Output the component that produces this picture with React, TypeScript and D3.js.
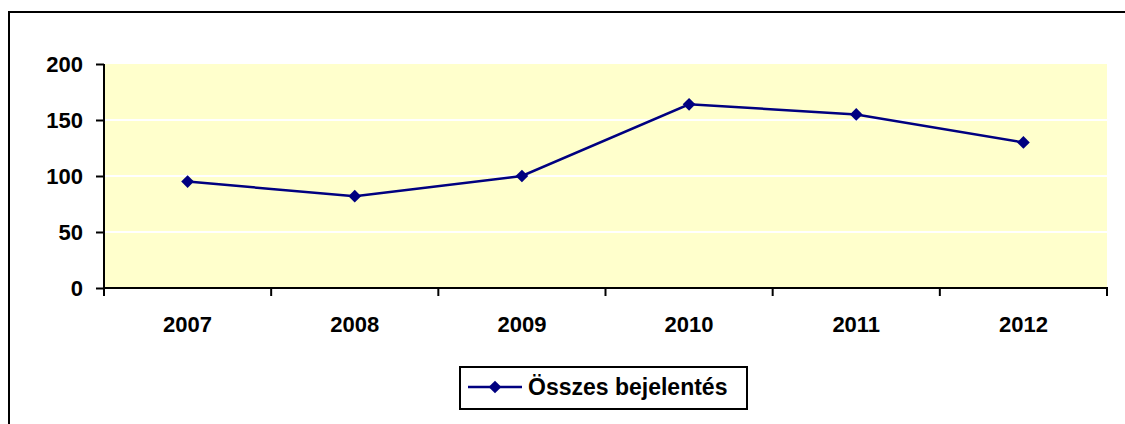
import { useEffect, useRef } from 'react'
import * as d3 from 'd3'

const years = ['2007', '2008', '2009', '2010', '2011', '2012']
const reports = [95, 82, 100, 164, 155, 130]
const yTicks = [0, 50, 100, 150, 200]
const seriesName = 'Összes bejelentés'

const W = 1125
const H = 424
const FONT = '"Liberation Sans", Arial, sans-serif'

export default function App() {
  const svgRef = useRef<SVGSVGElement>(null)

  useEffect(() => {
    if (!svgRef.current) return
    const svg = d3.select(svgRef.current)
    svg.selectAll('*').remove()

    // outer chart frame (runs off the right/bottom edge)
    svg.append('rect')
      .attr('x', 9).attr('y', 12).attr('width', W + 20).attr('height', H + 20)
      .attr('fill', '#fff').attr('stroke', '#000').attr('stroke-width', 2)

    const plot = { left: 104, top: 64, right: 1107, bottom: 288 }

    const x = d3.scaleBand().domain(years).range([plot.left, plot.right])
    const y = d3.scaleLinear().domain([0, 200]).range([plot.bottom, plot.top])

    // plot background
    svg.append('rect')
      .attr('x', plot.left).attr('y', plot.top)
      .attr('width', plot.right - plot.left).attr('height', plot.bottom - plot.top)
      .attr('fill', '#FFFFCC')

    // white gridlines
    svg.append('g').selectAll('line')
      .data(yTicks.filter(t => t > 0 && t < 200))
      .join('line')
      .attr('x1', plot.left).attr('x2', plot.right)
      .attr('y1', d => y(d)).attr('y2', d => y(d))
      .attr('stroke', '#fff').attr('stroke-width', 2)

    // y axis
    const yAxis = svg.append('g')
      .attr('transform', `translate(${plot.left},0)`)
      .call(d3.axisLeft(y).tickValues(yTicks).tickSize(8).tickPadding(13))
    yAxis.select('.domain').attr('stroke', '#000').attr('stroke-width', 2)
      .attr('d', `M0,${plot.top}V${plot.bottom}`)
    yAxis.selectAll('.tick line').attr('stroke', '#000').attr('stroke-width', 2)
    yAxis.selectAll('.tick text')
      .attr('font-family', FONT).attr('font-size', 22).attr('font-weight', 'bold')
      .attr('fill', '#000')

    // x axis: ticks at category boundaries
    const xAxis = svg.append('g')
    xAxis.append('line')
      .attr('x1', plot.left - 1).attr('x2', plot.right + 1)
      .attr('y1', plot.bottom).attr('y2', plot.bottom)
      .attr('stroke', '#000').attr('stroke-width', 2)
    const bounds = [...years.map(d => x(d)!), plot.right]
    xAxis.selectAll('line.tk')
      .data(bounds)
      .join('line')
      .attr('class', 'tk')
      .attr('x1', d => d).attr('x2', d => d)
      .attr('y1', plot.bottom).attr('y2', plot.bottom + 8)
      .attr('stroke', '#000').attr('stroke-width', 2)
    xAxis.selectAll('text')
      .data(years)
      .join('text')
      .attr('x', d => x(d)! + x.bandwidth() / 2)
      .attr('y', 332)
      .attr('text-anchor', 'middle')
      .attr('font-family', FONT).attr('font-size', 22).attr('font-weight', 'bold')
      .text(d => d)

    // series line
    const line = d3.line<number>()
      .x((_, i) => x(years[i])! + x.bandwidth() / 2)
      .y(d => y(d))
    svg.append('path')
      .datum(reports)
      .attr('fill', 'none')
      .attr('stroke', '#000080').attr('stroke-width', 2.5)
      .attr('d', line)

    const diamond = d3.symbol().type(d3.symbolSquare).size(81)
    svg.append('g').selectAll('path')
      .data(reports)
      .join('path')
      .attr('d', diamond)
      .attr('transform', (d, i) => `translate(${x(years[i])! + x.bandwidth() / 2},${y(d)}) rotate(45)`)
      .attr('fill', '#000080')

    // legend
    const lg = svg.append('g')
    lg.append('rect')
      .attr('x', 460).attr('y', 367).attr('width', 287).attr('height', 42)
      .attr('fill', '#fff').attr('stroke', '#000').attr('stroke-width', 2)
    lg.append('line')
      .attr('x1', 468).attr('x2', 522).attr('y1', 387).attr('y2', 387)
      .attr('stroke', '#000080').attr('stroke-width', 2.5)
    lg.append('path')
      .attr('d', diamond)
      .attr('transform', 'translate(495,387) rotate(45)')
      .attr('fill', '#000080')
    lg.append('text')
      .attr('x', 528).attr('y', 395)
      .attr('font-family', FONT).attr('font-size', 23).attr('font-weight', 'bold')
      .text(seriesName)
  }, [])

  return (
    <svg ref={svgRef} width={W} height={H}
      style={{ position: 'absolute', left: 0, top: 0, background: '#fff' }} />
  )
}
